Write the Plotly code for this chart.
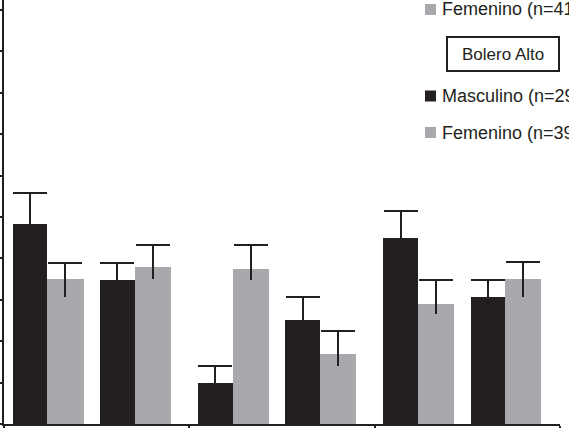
import plotly.graph_objects as go

# three outcome groups (labels are cropped out of the reference)
groups = ["Grupo 1", "Grupo 2", "Grupo 3"]

# Bolero Bajo
bajo_masc = [4.83, 0.99, 4.49]
bajo_masc_err = [0.75, 0.41, 0.65]
bajo_fem = [3.50, 3.74, 2.90]
bajo_fem_err = [0.39, 0.58, 0.58]
bajo_fem_err_minus = [0.43, 0.27, 0.24]

# Bolero Alto
alto_masc = [3.48, 2.51, 3.07]
alto_masc_err = [0.41, 0.56, 0.41]
alto_fem = [3.79, 1.69, 3.50]
alto_fem_err = [0.53, 0.56, 0.41]
alto_fem_err_minus = [0.29, 0.29, 0.43]

y_ticks = list(range(0, 11))

BLACK = "#231f20"
GRAY = "#a7a9ac"
W, H = 569, 428
ML, MR, MT, MB = 4, 9, 0, 4


def px_x(p):
    return (p - ML) / (W - ML - MR)


def px_y(p):
    return 1 - (p - MT) / (H - MT - MB)


def add_bar(fig, name, y, err, err_minus, color, offset, width):
    # the bar with a capless whisker
    fig.add_trace(go.Bar(
        x=groups, y=y, name=name, marker=dict(color=color, line=dict(width=0)),
        offset=offset, width=width,
        error_y=dict(type="data", array=err, arrayminus=err_minus, symmetric=False,
                     color=BLACK, thickness=2, width=0),
        showlegend=False,
    ))
    # cap only on the upper end
    fig.add_trace(go.Bar(
        x=groups, y=[v + e for v, e in zip(y, err)],
        marker=dict(color="rgba(0,0,0,0)", line=dict(width=0)),
        offset=offset, width=width, hoverinfo="skip",
        error_y=dict(type="data", array=[0] * len(y), arrayminus=[0] * len(y),
                     symmetric=False, color=BLACK, thickness=2, width=17),
        showlegend=False,
    ))


fig = go.Figure()
add_bar(fig, "Bolero Bajo - Masculino", bajo_masc, bajo_masc_err, bajo_masc_err, BLACK, -0.453, 0.187)
add_bar(fig, "Bolero Bajo - Femenino (n=41)", bajo_fem, bajo_fem_err, bajo_fem_err_minus, GRAY, -0.266, 0.195)
add_bar(fig, "Bolero Alto - Masculino (n=29)", alto_masc, alto_masc_err, alto_masc_err, BLACK, 0.018, 0.187)
add_bar(fig, "Bolero Alto - Femenino (n=39)", alto_fem, alto_fem_err, alto_fem_err_minus, GRAY, 0.205, 0.195)

fig.update_layout(
    width=W, height=H, margin=dict(l=ML, r=MR, t=MT, b=MB, pad=0),
    plot_bgcolor="white", paper_bgcolor="white",
    font=dict(family="Liberation Sans, Arial, sans-serif", size=17, color=BLACK),
    bargap=0,
)
fig.update_xaxes(type="category", range=[-0.5, 2.5], tickson="boundaries",
                 showticklabels=False, ticks="outside", ticklen=4, tickwidth=1.5,
                 tickcolor=BLACK, showline=True, linecolor=BLACK, linewidth=1.5,
                 showgrid=False, zeroline=False)
fig.update_yaxes(range=[0, 10.24], tickvals=y_ticks, showticklabels=False,
                 ticks="outside", ticklen=4, tickwidth=1.5, tickcolor=BLACK,
                 showline=True, linecolor=BLACK, linewidth=1.5,
                 showgrid=False, zeroline=False)

# hand-drawn legend in the top right corner
legend_rows = [
    ("Femenino (n=41)", GRAY, 9.5),
    ("Masculino (n=29)", BLACK, 96),
    ("Femenino (n=39)", GRAY, 132.5),
]
for text, color, yc in legend_rows:
    fig.add_shape(type="rect", xref="paper", yref="paper",
                  x0=px_x(425), x1=px_x(436), y0=px_y(yc - 5.5), y1=px_y(yc + 5.5),
                  fillcolor=color, line=dict(width=0))
    fig.add_annotation(text=text, xref="paper", yref="paper", x=px_x(440), y=px_y(yc),
                       xanchor="left", yanchor="middle", showarrow=False,
                       font=dict(size=18, color=BLACK))

fig.add_shape(type="rect", xref="paper", yref="paper",
              x0=px_x(447), x1=px_x(559), y0=px_y(37), y1=px_y(71),
              line=dict(color=BLACK, width=2), fillcolor="white")
fig.add_annotation(text="Bolero Alto", xref="paper", yref="paper", x=px_x(503), y=px_y(54),
                   xanchor="center", yanchor="middle", showarrow=False,
                   font=dict(size=17, color=BLACK))

fig.write_html("out.html", config={"displayModeBar": False},
               post_script="document.body.style.margin='0px';")
